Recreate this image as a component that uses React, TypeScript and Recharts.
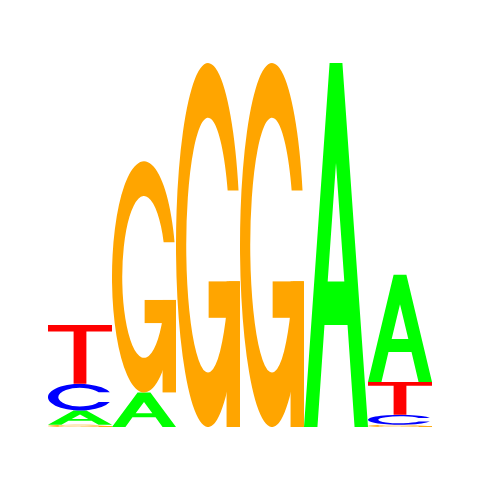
import { BarChart, Bar, XAxis, YAxis } from 'recharts'

// information content (bits) per base
const positions = ['1', '2', '3', '4', '5', '6']
const baseA = [0.079, 0.19, 0, 0, 2.0, 0.59]
const baseC = [0.146, 0, 0, 0, 0, 0.055]
const baseG = [0.012, 1.27, 2.0, 2.0, 0, 0.012]
const baseT = [0.324, 0, 0, 0, 0, 0.18]

const BASES = ['A', 'C', 'G', 'T']
const VALUES: Record<string, number[]> = { A: baseA, C: baseC, G: baseG, T: baseT }
const COLORS: Record<string, string> = { A: '#00ff00', C: '#0000ff', G: '#ffa500', T: '#ff0000' }

// smallest letter at the bottom of each stack
const data = positions.map((p, i) => {
  const row: any = { pos: p }
  const sorted = BASES.map((b) => ({ b, v: VALUES[b][i] })).sort((a, b) => a.v - b.v)
  sorted.forEach((s, r) => {
    row[`r${r}`] = s.v
    row[`l${r}`] = s.b
  })
  return row
})

// glyphs drawn in a 100 x 100 box
const PATH_A =
  'M0,100 L40,0 L60,0 L100,100 L79,100 L68,72 L32,72 L21,100 Z M37,60 L63,60 L50,27.5 Z'
const PATH_C = 'M96.6,32 A50,50 0 1 0 96.6,68 L79.2,68 A34,35 0 1 1 79.2,32 Z'
const PATH_G = 'M97.7,35 A50,50 0 1 0 99,60 L82.6,60 A34,35 0 1 1 80.7,35 Z'

function Glyph({ letter, color }: { letter: string; color: string }) {
  if (letter === 'A') return <path d={PATH_A} fill={color} fillRule="evenodd" />
  if (letter === 'C') return <path d={PATH_C} fill={color} />
  if (letter === 'T')
    return <path d="M0,0 L100,0 L100,11 L60,11 L60,100 L40,100 L40,11 L0,11 Z" fill={color} />
  return (
    <g fill={color}>
      <path d={PATH_G} />
      <rect x={51} y={60} width={49} height={10} />
      <rect x={79} y={60} width={21} height={40} />
    </g>
  )
}

function letterShape(rank: number) {
  return (props: any) => {
    const { x, y, width, height, payload } = props
    if (!height || height <= 0) return <g />
    const letter = payload[`l${rank}`]
    return (
      <g transform={`translate(${x},${y}) scale(${width / 100},${height / 100})`}>
        <Glyph letter={letter} color={COLORS[letter]} />
      </g>
    )
  }
}

export default function App() {
  return (
    <div style={{ position: 'absolute', left: 0, top: 0, background: '#fff' }}>
      <BarChart
        width={480}
        height={480}
        data={data}
        barCategoryGap={0}
        barGap={0}
        margin={{ top: 63, right: 48, bottom: 53, left: 48 }}
      >
        <XAxis dataKey="pos" hide />
        <YAxis hide domain={[0, 2]} allowDataOverflow />
        {[0, 1, 2, 3].map((r) => (
          <Bar
            key={r}
            dataKey={`r${r}`}
            stackId="logo"
            shape={letterShape(r)}
            isAnimationActive={false}
          />
        ))}
      </BarChart>
    </div>
  )
}
